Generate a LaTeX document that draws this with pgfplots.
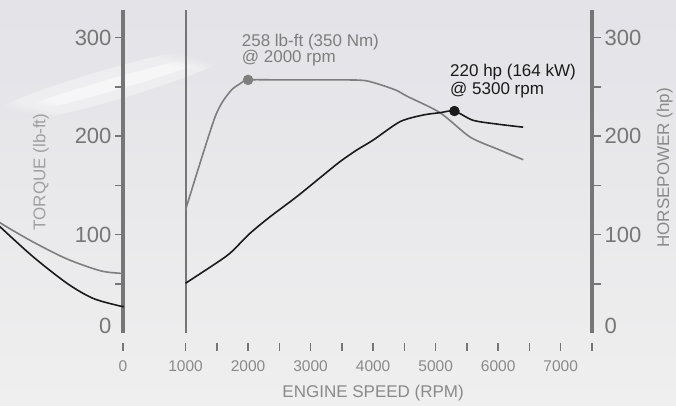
\documentclass[border=0pt]{standalone}
\usepackage{fontspec}
\setmainfont{Liberation Sans}
\usepackage{pgfplots}
\pgfplotsset{compat=1.18}
\usetikzlibrary{fadings}

\definecolor{axgray}{HTML}{767676}
\definecolor{crvgray}{HTML}{7E7E7E}
\definecolor{lblgray}{HTML}{8A8A8A}
\definecolor{ttlgray}{HTML}{A0A0A0}
\definecolor{ink}{HTML}{1A1A1A}
\definecolor{bgtop}{HTML}{E3E3E8}
\definecolor{bgbot}{HTML}{EFEFEF}

\pgfplotsset{
  enginebase/.style={
    scale only axis, width=469pt, height=323pt,
    xmin=0, xmax=7500, ymin=0, ymax=328,
    clip=false,
    tick align=outside,
    /pgf/number format/assume math mode=true,
    y axis line style={draw=axgray, line width=4pt},
    ytick={100,200,300}, minor ytick={50,150,250},
    ytick style={draw=axgray, line width=1.5pt},
    yticklabel style={font=\fontsize{22}{26}\selectfont, text=axgray},
    extra y ticks={0},
  }
}

\begin{document}
\begin{tikzpicture}
% backdrop: picture runs from (-123pt,-73pt) to (553pt,333pt), axis box starts at the origin
\fill[top color=bgtop, bottom color=bgbot] (-123pt,-73pt) rectangle (553pt,333pt);
\fill[white, opacity=0.35, path fading=circle with fuzzy edge 20 percent, rotate around={16:(-13pt,248pt)}]
  (-13pt,248pt) ellipse (135pt and 16pt);
\fill[white, opacity=0.5, path fading=circle with fuzzy edge 20 percent, rotate around={16:(-8pt,249pt)}]
  (-8pt,249pt) ellipse (110pt and 6pt);

% torque side (left axis) and the rpm ticks
\begin{axis}[
  enginebase,
  axis x line*=bottom, axis y line*=left,
  x axis line style={draw=none},
  major tick length=8pt, minor tick length=8pt,
  xtick={0,1000,2000,3000,4000,5000,6000,7000},
  xticklabels={0,1000,2000,3000,4000,5000,6000,7000},
  minor xtick={1500,2500,3500,4500,5500,6500,7500},
  xtick style={draw=axgray, line width=1.5pt, yshift=-10pt},
  xticklabel style={font=\fontsize{15.5}{18}\selectfont, text=lblgray, yshift=-16.5pt},
  extra y tick style={major tick length=0pt, yticklabel style={yshift=7pt, xshift=-8pt}},
  xlabel={ENGINE SPEED (RPM)},
  every axis x label/.style={at={(axis description cs:0.5333,-0.2012)}, anchor=base,
    font=\fontsize{17}{20}\selectfont, text=lblgray},
  ylabel={TORQUE (lb-ft)},
  every axis y label/.style={at={(axis description cs:-0.175,0.498)}, rotate=90, anchor=center,
    font=\fontsize{17}{20}\selectfont, text=ttlgray},
]
% curve ends left of the 0 rpm bar
\addplot[crvgray, line width=1.6pt, smooth] coordinates {
  (-2100,120) (-1967,112) (-1439,92.5) (-896,75.2) (-368,63.3) (-48,60.6) (0,60.5)
};
\addplot[ink, line width=1.6pt, smooth] coordinates {
  (-2100,116) (-1967,107.9) (-1439,77.5) (-896,50.5) (-480,35.2) (-48,27.4) (0,27.3)
};

% 1000 rpm marker line
\addplot[axgray, line width=2pt] coordinates {(1000,0) (1000,328)};

% torque, lb-ft
\addplot[crvgray, line width=1.6pt, smooth, tension=0.45] coordinates {
  (1000,125) (1470,219) (1710,245) (1870,253) (2000,257) (2500,257) (3000,257)
  (3500,257) (3900,256) (4350,247) (4540,240.5) (5070,223.7) (5550,199) (6000,186.5) (6400,176)
};
% horsepower, hp (same scale as the right axis)
\addplot[ink, line width=1.6pt, smooth, tension=0.45] coordinates {
  (1000,50.5) (1444,69) (1711,81) (2031,101.2) (2351,118) (2778,138.4) (3204,160.4)
  (3470,174) (3738,185.8) (4003,196) (4430,214.6) (4803,221.4) (5070,223.7) (5300,225.4)
  (5597,216) (6000,212) (6400,209)
};

\addplot[only marks, mark=*, mark size=5pt, crvgray] coordinates {(2000,257)};
\addplot[only marks, mark=*, mark size=5pt, ink] coordinates {(5300,225.4)};

\node[anchor=base west, inner sep=0, font=\fontsize{17}{20}\selectfont, text=crvgray]
  at (axis cs:1898,291.4) {258 lb-ft (350 Nm)};
\node[anchor=base west, inner sep=0, font=\fontsize{17}{20}\selectfont, text=crvgray]
  at (axis cs:1898,274.2) {@ 2000 rpm};
\node[anchor=base west, inner sep=0, font=\fontsize{17}{20}\selectfont, text=ink]
  at (axis cs:5229,260) {220 hp (164 kW)};
\node[anchor=base west, inner sep=0, font=\fontsize{17}{20}\selectfont, text=ink]
  at (axis cs:5229,241.7) {@ 5300 rpm};
\end{axis}

% horsepower side (right axis)
\begin{axis}[
  enginebase,
  axis x line=none, axis y line*=right,
  major tick length=9pt, minor tick length=9pt,
  extra y tick style={major tick length=0pt, yticklabel style={yshift=7pt, xshift=9pt}},
  ylabel={HORSEPOWER (hp)},
  every axis y label/.style={at={(axis description cs:1.155,0.511)}, rotate=90, anchor=center,
    font=\fontsize{17}{20}\selectfont, text=lblgray},
]
\end{axis}

\pgfresetboundingbox
\path[use as bounding box] (-123pt,-73pt) rectangle (553pt,333pt);
\end{tikzpicture}
\end{document}
